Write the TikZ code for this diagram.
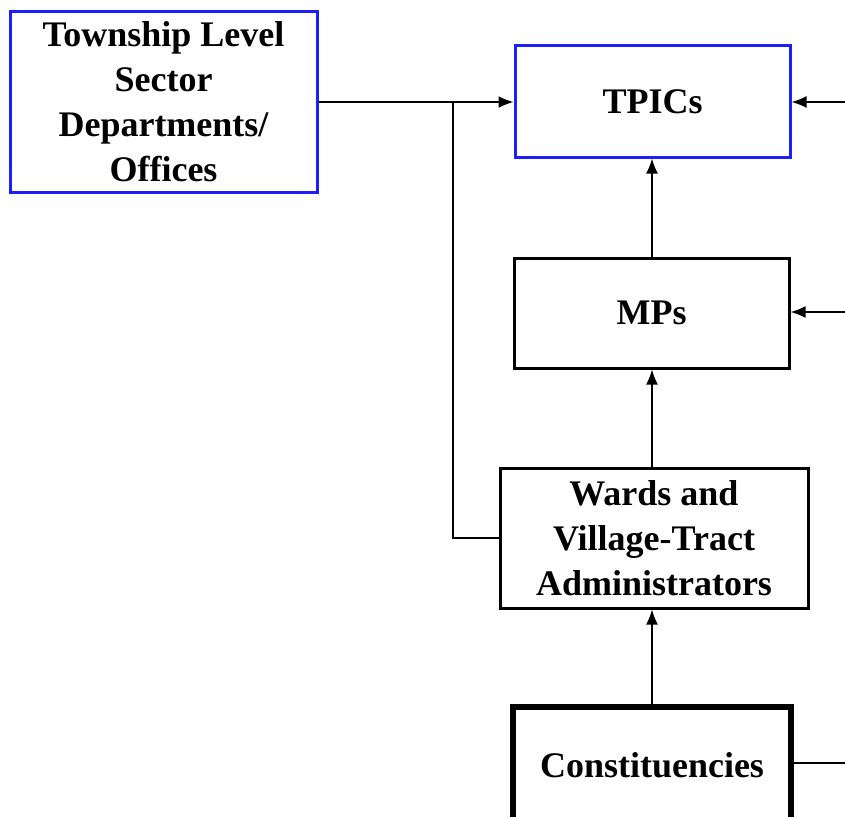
\documentclass[tikz,border=0pt]{standalone}
\usepackage{fontspec}
\setmainfont{Liberation Serif}
\usetikzlibrary{arrows.meta}
\definecolor{boxblue}{RGB}{30,30,250}
\begin{document}
\begin{tikzpicture}[x=1pt,y=-1pt,
  box/.style={draw=black,line width=3pt,align=center,inner sep=0pt,
    font=\fontsize{36}{45}\selectfont\bfseries},
  bluebox/.style={box,draw=boxblue},
  conn/.style={line width=1.6pt},
  arr/.style={conn,-{Latex[length=15pt,width=12pt]}}]
\clip (0,0) rectangle (845,816);
\fill[white] (0,0) rectangle (845,816);
\node[bluebox,minimum width=307pt,minimum height=180pt] (tl) at (163.5,102) {Township Level\\Sector\\Departments/\\Offices};
\node[bluebox,minimum width=275pt,minimum height=111pt] (tp) at (652.5,101.5) {TPICs};
\node[box,minimum width=275pt,minimum height=110pt] (mp) at (651.5,313) {MPs};
\node[box,minimum width=308pt,minimum height=140pt] (wa) at (654,538) {Wards and\\Village-Tract\\Administrators};
\node[box,line width=5.5pt,minimum width=278pt,minimum height=116pt] (co) at (652,765) {Constituencies};
\coordinate (j) at (453,102);
\coordinate (r1) at (850,102);
\coordinate (r2) at (850,312);
\coordinate (r3) at (850,763);
\coordinate (vx) at (652,0);
\draw[arr] (tl.east |- j) -- (tp.west |- j);
\draw[conn] (j) |- (wa.west);
\draw[arr] (r1) -- (tp.east |- r1);
\draw[arr] (r2) -- (mp.east |- r2);
\draw[conn] (co.east |- r3) -- (r3);
\draw[arr] (vx |- mp.north) -- (vx |- tp.south);
\draw[arr] (vx |- wa.north) -- (vx |- mp.south);
\draw[arr] (vx |- co.north) -- (vx |- wa.south);
\end{tikzpicture}
\end{document}
